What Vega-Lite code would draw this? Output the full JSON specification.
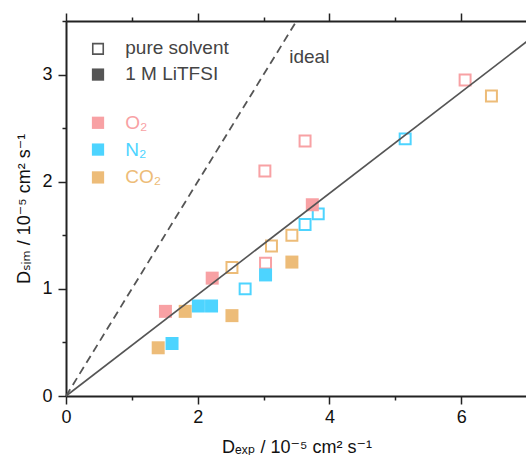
{
  "$schema": "https://vega.github.io/schema/vega-lite/v6.json",
  "width": 461,
  "height": 375,
  "autosize": {"type": "none"},
  "padding": {"left": 66, "top": 21, "right": 0, "bottom": 68},
  "background": "white",
  "config": {
    "view": {"stroke": null},
    "font": "Liberation Sans, DejaVu Sans",
    "axis": {"grid": false, "labelFlush": false, "domainColor": "#222", "domainWidth": 2, "tickColor": "#222", "tickWidth": 1.5, "labelFont": "Liberation Sans", "labelFontSize": 18, "labelColor": "#111", "titleFont": "Liberation Sans, DejaVu Sans", "titleFontSize": 18, "titleFontWeight": "normal", "titleColor": "#111"}
  },
  "datasets": {
    "open": [
      {"x": 2.52, "y": 1.20, "c": "#EDBC78"},
      {"x": 3.12, "y": 1.40, "c": "#EDBC78"},
      {"x": 3.43, "y": 1.50, "c": "#EDBC78"},
      {"x": 6.46, "y": 2.80, "c": "#EDBC78"},
      {"x": 2.72, "y": 1.00, "c": "#4DD4FF"},
      {"x": 3.63, "y": 1.60, "c": "#4DD4FF"},
      {"x": 3.83, "y": 1.70, "c": "#4DD4FF"},
      {"x": 5.15, "y": 2.40, "c": "#4DD4FF"},
      {"x": 3.02, "y": 2.10, "c": "#F8A1A4"},
      {"x": 3.03, "y": 1.24, "c": "#F8A1A4"},
      {"x": 3.63, "y": 2.38, "c": "#F8A1A4"},
      {"x": 6.06, "y": 2.95, "c": "#F8A1A4"}
    ],
    "filled": [
      {"x": 1.51, "y": 0.79, "c": "#F8A1A4"},
      {"x": 2.22, "y": 1.10, "c": "#F8A1A4"},
      {"x": 3.74, "y": 1.785, "c": "#F8A1A4"},
      {"x": 1.40, "y": 0.45, "c": "#EDBC78"},
      {"x": 1.81, "y": 0.79, "c": "#EDBC78"},
      {"x": 2.52, "y": 0.75, "c": "#EDBC78"},
      {"x": 3.43, "y": 1.25, "c": "#EDBC78"},
      {"x": 1.61, "y": 0.49, "c": "#4DD4FF"},
      {"x": 2.01, "y": 0.84, "c": "#4DD4FF"},
      {"x": 2.21, "y": 0.84, "c": "#4DD4FF"},
      {"x": 3.03, "y": 1.13, "c": "#4DD4FF"}
    ],
    "fit": [{"x": 0, "y": 0}, {"x": 7, "y": 3.31}],
    "ideal": [{"x": 0, "y": 0}, {"x": 3.5, "y": 3.5}],
    "legOpen": [{"x": 0.486, "y": 3.24, "c": "#555555"}],
    "legFilled": [
      {"x": 0.486, "y": 3.00, "c": "#555555"},
      {"x": 0.486, "y": 2.55, "c": "#F8A1A4"},
      {"x": 0.486, "y": 2.30, "c": "#4DD4FF"},
      {"x": 0.486, "y": 2.04, "c": "#EDBC78"}
    ],
    "legText": [
      {"x": 0.90, "y": 3.25, "t": "pure solvent", "c": "#444444"},
      {"x": 0.90, "y": 3.01, "t": "1 M LiTFSI", "c": "#444444"},
      {"x": 0.90, "y": 2.55, "t": "O₂", "c": "#F8A1A4"},
      {"x": 0.90, "y": 2.30, "t": "N₂", "c": "#4DD4FF"},
      {"x": 0.90, "y": 2.04, "t": "CO₂", "c": "#EDBC78"},
      {"x": 3.39, "y": 3.16, "t": "ideal", "c": "#444444"}
    ]
  },
  "resolve": {"axis": {"x": "independent", "y": "independent"}},
  "layer": [
    {
      "data": {"name": "open"},
      "mark": {"type": "point", "shape": "square", "filled": false, "size": 120, "strokeWidth": 2, "opacity": 1},
      "encoding": {
        "x": {"field": "x", "type": "quantitative", "scale": {"domain": [0, 7], "nice": false, "zero": false}, "axis": {"orient": "top", "values": [0, 2, 4, 6], "labels": false, "tickSize": 8, "title": null, "domain": true}},
        "y": {"field": "y", "type": "quantitative", "scale": {"domain": [0, 3.5], "nice": false, "zero": false}, "axis": null},
        "color": {"field": "c", "type": "nominal", "scale": null}
      }
    },
    {
      "data": {"name": "filled"},
      "mark": {"type": "point", "shape": "square", "filled": true, "size": 169, "opacity": 1},
      "encoding": {
        "x": {"field": "x", "type": "quantitative", "axis": {"orient": "top", "values": [1, 3, 5], "labels": false, "tickSize": 4, "title": null, "domain": false}},
        "y": {"field": "y", "type": "quantitative", "axis": null},
        "color": {"field": "c", "type": "nominal", "scale": null}
      }
    },
    {
      "data": {"name": "ideal"},
      "mark": {"type": "line", "color": "#555555", "strokeWidth": 1.8, "strokeDash": [8, 5]},
      "encoding": {
        "x": {"field": "x", "type": "quantitative", "axis": {"orient": "bottom", "values": [1, 3, 5], "labels": false, "tickSize": 4, "title": null, "domain": false}},
        "y": {"field": "y", "type": "quantitative", "axis": {"orient": "left", "values": [0.5, 1.5, 2.5, 3.5], "labels": false, "tickSize": 4, "title": null, "domain": false}}
      }
    },
    {
      "data": {"name": "fit"},
      "mark": {"type": "line", "color": "#555555", "strokeWidth": 1.6},
      "encoding": {
        "x": {"field": "x", "type": "quantitative", "axis": {"orient": "bottom", "values": [0, 2, 4, 6], "tickSize": 8, "labelPadding": 4, "title": "Dₑₓₚ / 10⁻⁵ cm² s⁻¹", "titlePadding": 12}},
        "y": {"field": "y", "type": "quantitative", "axis": {"orient": "left", "values": [0, 1, 2, 3], "tickSize": 8, "labelPadding": 6, "title": "Dₛᵢₘ / 10⁻⁵ cm² s⁻¹", "titlePadding": 8}}
      }
    },
    {
      "data": {"name": "legOpen"},
      "mark": {"type": "point", "shape": "square", "filled": false, "size": 110, "strokeWidth": 1.6, "opacity": 1},
      "encoding": {
        "x": {"field": "x", "type": "quantitative", "axis": null},
        "y": {"field": "y", "type": "quantitative", "axis": null},
        "color": {"field": "c", "type": "nominal", "scale": null}
      }
    },
    {
      "data": {"name": "legFilled"},
      "mark": {"type": "point", "shape": "square", "filled": true, "size": 150, "opacity": 1},
      "encoding": {
        "x": {"field": "x", "type": "quantitative", "axis": null},
        "y": {"field": "y", "type": "quantitative", "axis": null},
        "color": {"field": "c", "type": "nominal", "scale": null}
      }
    },
    {
      "data": {"name": "legText"},
      "mark": {"type": "text", "align": "left", "baseline": "middle", "fontSize": 19, "font": "Liberation Sans, DejaVu Sans"},
      "encoding": {
        "x": {"field": "x", "type": "quantitative", "axis": null},
        "y": {"field": "y", "type": "quantitative", "axis": null},
        "text": {"field": "t"},
        "color": {"field": "c", "type": "nominal", "scale": null}
      }
    }
  ]
}
